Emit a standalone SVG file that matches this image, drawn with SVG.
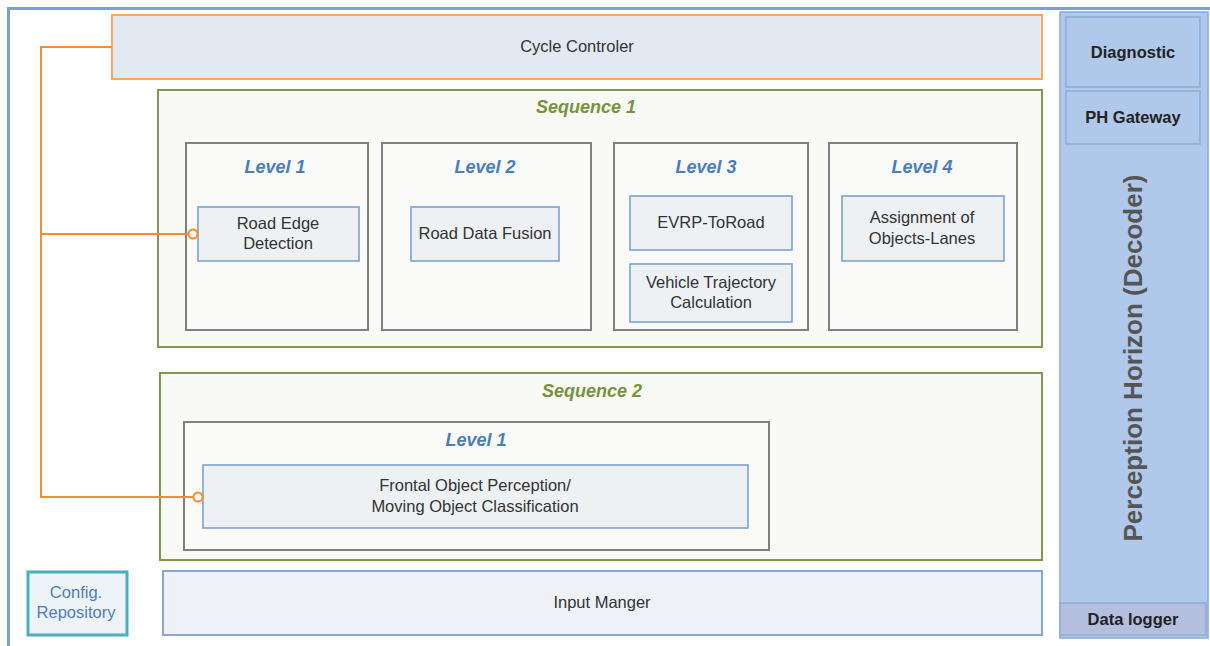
<svg xmlns="http://www.w3.org/2000/svg" width="1210" height="646" viewBox="0 0 1210 646">
<style>
text{font-family:"Liberation Sans",Arial,sans-serif;}
.body{font-size:16.5px;fill:#333333;text-anchor:middle;}
.seq{fill:#f9f9f6;stroke:#7f9a4e;stroke-width:2;}
.seqt{font-size:18px;font-weight:bold;font-style:italic;fill:#77933c;text-anchor:middle;}
.lvl{fill:#fafaf8;stroke:#808080;stroke-width:2;}
.lvlt{font-size:18px;font-weight:bold;font-style:italic;fill:#4a7ebb;text-anchor:middle;}
.mod{fill:#edf1f4;stroke:#7da2d0;stroke-width:1.6;}
.ph{fill:#b0c8ea;stroke:#8eaed6;stroke-width:1.6;}
.pht{font-size:16.5px;font-weight:bold;fill:#222222;text-anchor:middle;}
.conn{fill:none;stroke:#f68b2f;stroke-width:2;}
.dot{fill:#ffffff;stroke:#f68b2f;stroke-width:2;}
</style>
<rect x="0" y="0" width="1210" height="646" fill="#ffffff"/>
<path d="M8.5,646 V8.5 H1210" fill="none" stroke="#7ea0cc" stroke-width="3"/>

<g id="cycle-controller">
<rect x="112" y="15" width="930" height="64" fill="#e3e9f2" stroke="#f7a864" stroke-width="2"/>
<text class="body" x="577" y="52">Cycle Controler</text>
</g>

<g id="sequence-1">
<rect class="seq" x="158" y="90" width="884" height="257"/>
<text class="seqt" x="586" y="113">Sequence 1</text>
</g>
<g id="s1-level-1">
<rect class="lvl" x="186" y="143" width="182" height="187"/>
<text class="lvlt" x="275" y="173">Level 1</text>
</g>
<g id="road-edge-detection">
<rect class="mod" x="198" y="207" width="161" height="54"/>
<text class="body" x="278" y="229">Road Edge</text>
<text class="body" x="278" y="249">Detection</text>
</g>
<g id="s1-level-2">
<rect class="lvl" x="382" y="143" width="209" height="187"/>
<text class="lvlt" x="485" y="173">Level 2</text>
</g>
<g id="road-data-fusion">
<rect class="mod" x="411" y="207" width="148" height="54"/>
<text class="body" x="485" y="239">Road Data Fusion</text>
</g>
<g id="s1-level-3">
<rect class="lvl" x="614" y="143" width="194" height="187"/>
<text class="lvlt" x="706" y="173">Level 3</text>
</g>
<g id="evrp-toroad">
<rect class="mod" x="630" y="196" width="162" height="54"/>
<text class="body" x="711" y="228">EVRP-ToRoad</text>
</g>
<g id="vehicle-trajectory">
<rect class="mod" x="630" y="264" width="162" height="58"/>
<text class="body" x="711" y="288">Vehicle Trajectory</text>
<text class="body" x="711" y="308">Calculation</text>
</g>
<g id="s1-level-4">
<rect class="lvl" x="829" y="143" width="188" height="187"/>
<text class="lvlt" x="922" y="173">Level 4</text>
</g>
<g id="assignment-objects-lanes">
<rect class="mod" x="842" y="196" width="162" height="65"/>
<text class="body" x="922" y="223">Assignment of</text>
<text class="body" x="922" y="244">Objects-Lanes</text>
</g>

<g id="sequence-2">
<rect class="seq" x="160" y="373" width="882" height="187"/>
<text class="seqt" x="592" y="397">Sequence 2</text>
</g>
<g id="s2-level-1">
<rect class="lvl" x="184" y="422" width="585" height="128"/>
<text class="lvlt" x="476" y="446">Level 1</text>
</g>
<g id="frontal-object-perception">
<rect class="mod" x="203" y="465" width="545" height="63"/>
<text class="body" x="475" y="491">Frontal Object Perception/</text>
<text class="body" x="475" y="512">Moving Object Classification</text>
</g>

<g id="config-repository">
<rect x="28" y="572" width="99" height="63" fill="#eef3f8" stroke="#4bacc6" stroke-width="3"/>
<text x="76" y="598" style="font-size:16.5px;fill:#4f7ec0;text-anchor:middle;">Config.</text>
<text x="76" y="618" style="font-size:16.5px;fill:#4f7ec0;text-anchor:middle;">Repository</text>
</g>
<g id="input-manager">
<rect x="163" y="571" width="879" height="64" fill="#eef2f8" stroke="#8aa8cc" stroke-width="2"/>
<text class="body" x="602" y="608">Input Manger</text>
</g>

<g id="perception-horizon">
<rect class="ph" x="1060" y="12" width="148" height="626"/>
<text transform="translate(1142,358) rotate(-90)" x="0" y="0" style="font-size:26px;font-weight:bold;fill:#555555;text-anchor:middle;">Perception Horizon (Decoder)</text>
</g>
<g id="diagnostic">
<rect class="ph" x="1066" y="17" width="134" height="70"/>
<text class="pht" x="1133" y="58">Diagnostic</text>
</g>
<g id="ph-gateway">
<rect class="ph" x="1066" y="91" width="134" height="53"/>
<text class="pht" x="1133" y="123">PH Gateway</text>
</g>
<g id="data-logger">
<rect x="1060" y="603" width="146" height="32" fill="#b4bfe0" stroke="#8eaed6" stroke-width="1.6"/>
<text class="pht" x="1133" y="625">Data logger</text>
</g>

<g id="connectors">
<path class="conn" d="M112,47 H41 V497 H193"/>
<path class="conn" d="M40,234 H188"/>
<circle class="dot" cx="193" cy="234" r="4.5"/>
<circle class="dot" cx="198" cy="497" r="4.5"/>
</g>
</svg>
